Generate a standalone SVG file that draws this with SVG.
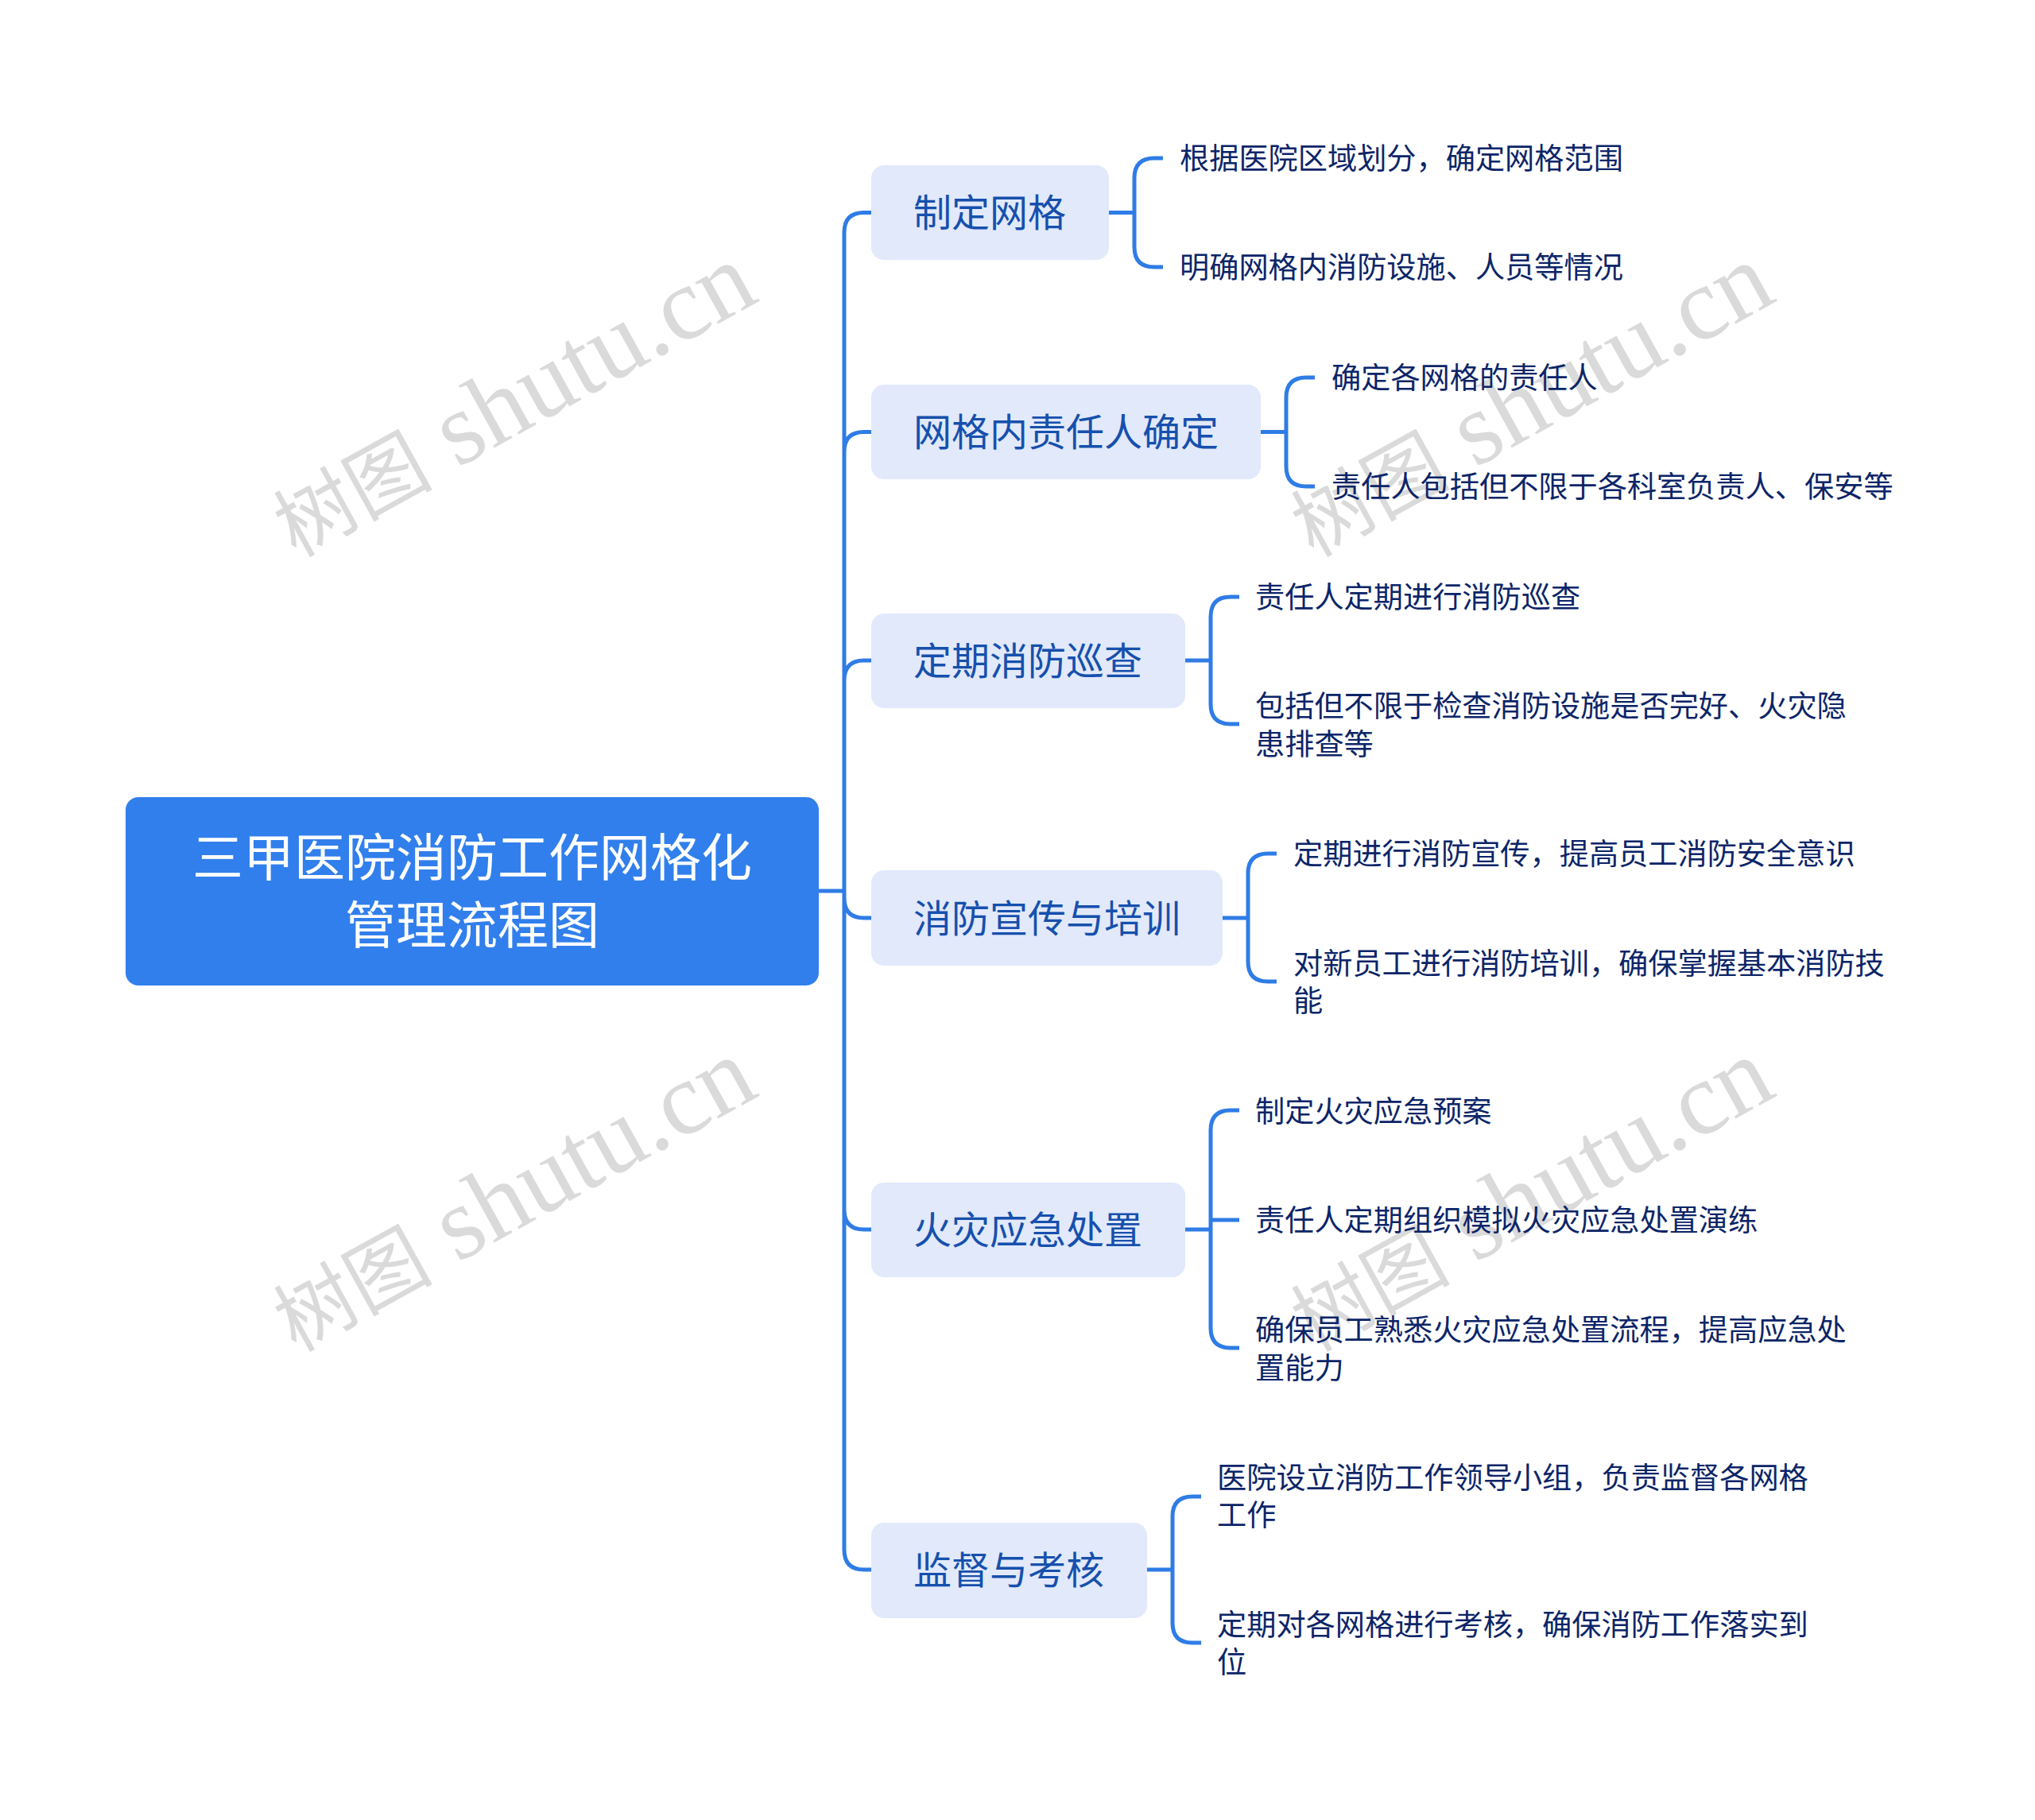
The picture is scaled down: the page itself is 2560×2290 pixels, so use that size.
<svg xmlns="http://www.w3.org/2000/svg" width="2560" height="2290" viewBox="0 0 2560 2290">
<style>
text{font-family:"Noto Sans CJK SC","Noto Sans",sans-serif}
.c{fill:none;stroke:#2f7ce6;stroke-width:5}
.n{fill:#e1e9fb}
.nt{font-size:48px;fill:#1650ad}
.lt{font-size:37.2px;fill:#0c2568}
.rt{font-size:64px;fill:#fff;text-anchor:middle}
.wm{font-family:"Liberation Serif","Noto Sans CJK SC",serif;font-size:130px;fill:#dadada}
.wc{font-size:100px;font-family:"Noto Sans CJK SC",sans-serif}
</style>
<defs><g id="w"><text class="wm" transform="rotate(-29)"><tspan class="wc">树图</tspan> shutu.cn</text></g></defs>
<rect width="2560" height="2290" fill="#fff"/>
<g id="watermarks">
<use href="#w" x="372" y="702"/><use href="#w" x="1652" y="702"/><use href="#w" x="372" y="1702"/><use href="#w" x="1652" y="1702"/>
</g>
<g id="connectors">
<path class="c" d="M1030 1121H1062M1096 267.500H1087Q1062 267.500 1062 292.500V1950Q1062 1975 1087 1975H1096M1096 543.500H1087Q1062 543.500 1062 568.500M1096 831H1087Q1062 831 1062 856M1062 1130Q1062 1155 1087 1155H1096M1062 1522Q1062 1547 1087 1547H1096"/>
<path class="c" d="M1395 267.500H1427M1463 199H1452Q1427 199 1427 224V311Q1427 336 1452 336H1463"/>
<path class="c" d="M1586 543.500H1618M1654 475H1643Q1618 475 1618 500V587Q1618 612 1643 612H1654"/>
<path class="c" d="M1491 831H1523M1559 751H1548Q1523 751 1523 776V886Q1523 911 1548 911H1559"/>
<path class="c" d="M1538 1155H1570M1606 1074H1595Q1570 1074 1570 1099V1210Q1570 1235 1595 1235H1606"/>
<path class="c" d="M1491 1547H1523M1523 1535H1559M1559 1397H1548Q1523 1397 1523 1422V1671Q1523 1696 1548 1696H1559"/>
<path class="c" d="M1443 1975H1475M1511 1883H1500Q1475 1883 1475 1908V2042Q1475 2067 1500 2067H1511"/>
</g>
<g id="root"><rect x="158" y="1003" width="872" height="237" rx="16" fill="#317fec"/>
<text class="rt" x="594" y="1102">三甲医院消防工作网格化</text><text class="rt" x="594" y="1187">管理流程图</text></g>
<g id="n1"><rect class="n" x="1096" y="208" width="299" height="119" rx="16"/><text class="nt" x="1149" y="285">制定网格</text></g>
<g id="n1a"><text class="lt" x="1484" y="213">根据医院区域划分，确定网格范围</text></g>
<g id="n1b"><text class="lt" x="1484" y="350">明确网格内消防设施、人员等情况</text></g>
<g id="n2"><rect class="n" x="1096" y="484" width="490" height="119" rx="16"/><text class="nt" x="1149" y="561">网格内责任人确定</text></g>
<g id="n2a"><text class="lt" x="1675" y="489">确定各网格的责任人</text></g>
<g id="n2b"><text class="lt" x="1675" y="626">责任人包括但不限于各科室负责人、保安等</text></g>
<g id="n3"><rect class="n" x="1096" y="772" width="395" height="119" rx="16"/><text class="nt" x="1149" y="849">定期消防巡查</text></g>
<g id="n3a"><text class="lt" x="1579" y="765">责任人定期进行消防巡查</text></g>
<g id="n3b"><text class="lt" x="1579" y="902">包括但不限于检查消防设施是否完好、火灾隐</text><text class="lt" x="1579" y="950">患排查等</text></g>
<g id="n4"><rect class="n" x="1096" y="1095" width="442" height="120" rx="16"/><text class="nt" x="1149" y="1173">消防宣传与培训</text></g>
<g id="n4a"><text class="lt" x="1627" y="1088">定期进行消防宣传，提高员工消防安全意识</text></g>
<g id="n4b"><text class="lt" x="1627" y="1226">对新员工进行消防培训，确保掌握基本消防技</text><text class="lt" x="1627" y="1273">能</text></g>
<g id="n5"><rect class="n" x="1096" y="1488" width="395" height="119" rx="16"/><text class="nt" x="1149" y="1565">火灾应急处置</text></g>
<g id="n5a"><text class="lt" x="1579" y="1412">制定火灾应急预案</text></g>
<g id="n5b"><text class="lt" x="1579" y="1549">责任人定期组织模拟火灾应急处置演练</text></g>
<g id="n5c"><text class="lt" x="1579" y="1687">确保员工熟悉火灾应急处置流程，提高应急处</text><text class="lt" x="1579" y="1735">置能力</text></g>
<g id="n6"><rect class="n" x="1096" y="1916" width="347" height="120" rx="16"/><text class="nt" x="1149" y="1993">监督与考核</text></g>
<g id="n6a"><text class="lt" x="1531" y="1873">医院设立消防工作领导小组，负责监督各网格</text><text class="lt" x="1531" y="1920">工作</text></g>
<g id="n6b"><text class="lt" x="1531" y="2058">定期对各网格进行考核，确保消防工作落实到</text><text class="lt" x="1531" y="2105">位</text></g>
</svg>
